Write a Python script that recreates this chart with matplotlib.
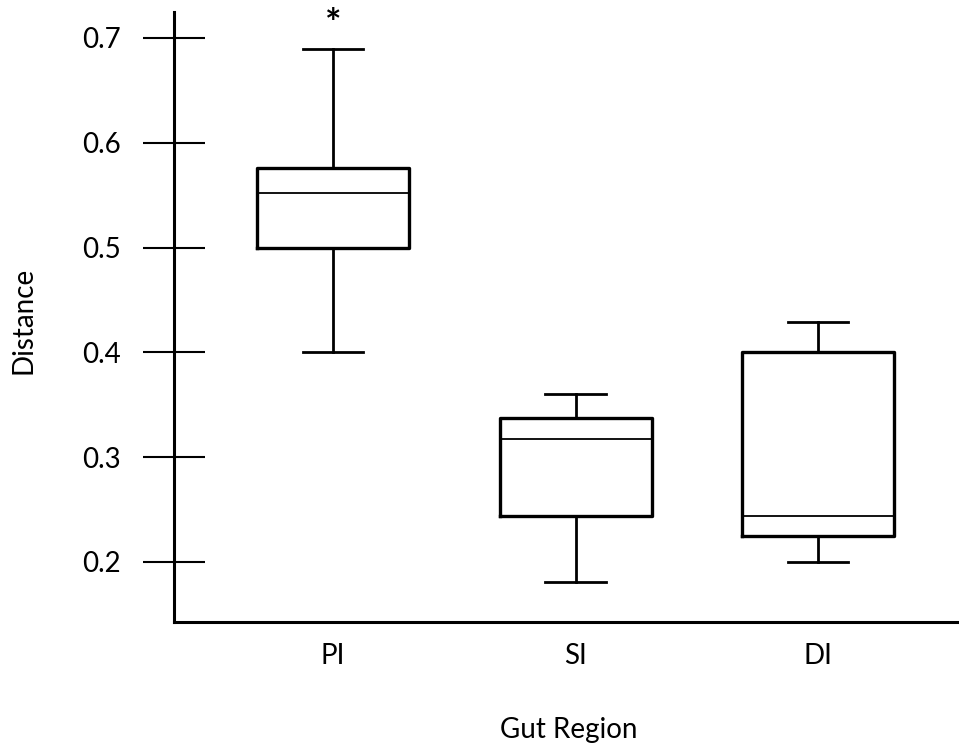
import matplotlib.pyplot as plt

plt.rcParams['font.family'] = ['Lato', 'DejaVu Sans']

# box statistics
regions = ['PI', 'SI', 'DI']
whis_lo = [0.400, 0.181, 0.200]
q1 = [0.500, 0.244, 0.225]
med = [0.552, 0.317, 0.244]
q3 = [0.576, 0.337, 0.400]
whis_hi = [0.689, 0.360, 0.429]
marks = ['*', '', '']
yticks = [0.2, 0.3, 0.4, 0.5, 0.6, 0.7]

stats = []
for i in range(len(regions)):
    stats.append(dict(label=regions[i], whislo=whis_lo[i], q1=q1[i], med=med[i],
                      q3=q3[i], whishi=whis_hi[i], fliers=[]))

fig = plt.figure(figsize=(9.59, 7.49), dpi=100)
ax = fig.add_axes([0.1814, 0.1696, 0.8186, 0.8144])

ax.bxp(stats, positions=[1, 2, 3], widths=0.627, capwidths=0.25, showfliers=False,
       boxprops=dict(color='black', linewidth=2.4),
       medianprops=dict(color='black', linewidth=1.3),
       whiskerprops=dict(color='black', linewidth=2.0),
       capprops=dict(color='black', linewidth=2.0))

for i, m in enumerate(marks):
    if m:
        ax.annotate(m, (i + 1, whis_hi[i]), xytext=(0, 18), textcoords='offset points',
                    ha='center', va='center', fontsize=28, fontweight='bold')

ax.set_xlim(0.3443, 3.581)
ax.set_ylim(0.1427, 0.7248)
ax.set_yticks(yticks)
ax.set_yticklabels([f'{t:.1f}' for t in yticks])

ax.spines['top'].set_visible(False)
ax.spines['right'].set_visible(False)
ax.spines['left'].set_linewidth(2.2)
ax.spines['bottom'].set_linewidth(2.2)

ax.tick_params(axis='y', direction='inout', length=44, width=1.5, pad=16.5, labelsize=20)
ax.tick_params(axis='x', length=0, pad=15, labelsize=20)

ax.set_ylabel('Distance', fontsize=20)
ax.set_xlabel('Gut Region', fontsize=20)
ax.yaxis.set_label_coords(-0.1745, 0.495)
ax.xaxis.set_label_coords(0.503, -0.155)

fig.savefig('out.png', dpi=100)
